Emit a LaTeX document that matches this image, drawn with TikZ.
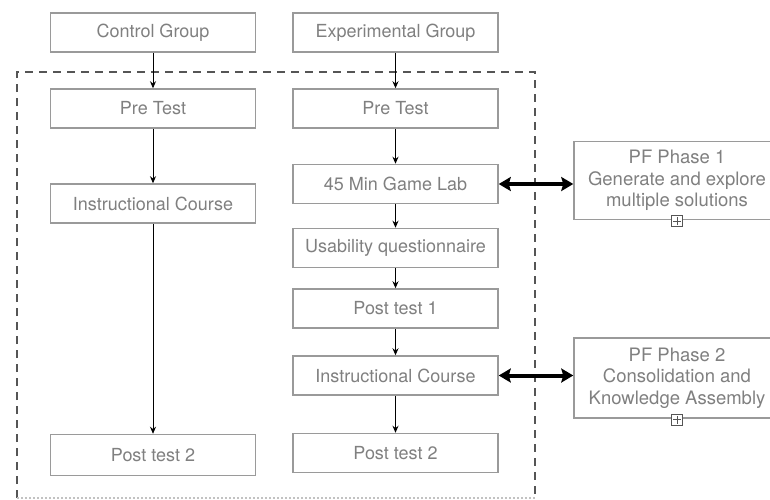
\documentclass[tikz,border=0pt]{standalone}
\usepackage{fontspec}
\setmainfont{TeX Gyre Heros}
\usetikzlibrary{arrows.meta}
\definecolor{boxline}{HTML}{9A9A9A}
\definecolor{boxtext}{HTML}{808080}
\definecolor{dashcol}{HTML}{555555}
\tikzset{
  stepbox/.style={draw=boxline, line width=1.5pt, minimum width=205pt, minimum height=39pt,
    inner sep=0pt, text=boxtext, font=\fontsize{18}{21}\selectfont},
  pfbox/.style={draw=boxline, line width=1.5pt, minimum width=206pt, inner sep=0pt,
    text=boxtext, align=center, font=\fontsize{18.5}{21.5}\selectfont},
  flow/.style={draw=black, line width=0.9pt, -{Stealth[length=7pt,width=6pt]}},
  bigarrow/.style={draw=black, line width=4pt, {Stealth[length=12pt,width=14pt,inset=2pt]}-{Stealth[length=12pt,width=14pt,inset=2pt]}},
  plusbox/.style={draw=dashcol, line width=1pt, minimum size=11pt, inner sep=0pt, fill=white}
}
\begin{document}
\begin{tikzpicture}[x=1pt,y=-1pt]
\useasboundingbox (0,0) rectangle (770,499);
\fill[white] (0,0) rectangle (770,499);
% dashed frame
\draw[dashcol, line width=1.4pt, dash pattern=on 8pt off 6pt] (17,498) -- (17,72) -- (535,72) -- (535,498);
\draw[boxline!60, line width=1.2pt, dash pattern=on 2pt off 2pt] (17,498) -- (535,498);
% left column
\node[stepbox] (cg) at (153,32.5) {Control Group};
\node[stepbox] (lpre) at (153,108.5) {Pre Test};
\node[stepbox] (lic) at (153,203.5) {Instructional Course};
\node[stepbox, minimum height=41pt] (lpost) at (153,455) {Post test 2};
% right column
\node[stepbox] (eg) at (395.5,32.5) {Experimental Group};
\node[stepbox] (rpre) at (395.5,108.5) {Pre Test};
\node[stepbox] (gl) at (395.5,184) {45 Min Game Lab};
\node[stepbox] (uq) at (395.5,248) {Usability questionnaire};
\node[stepbox] (pt1) at (395.5,308.5) {Post test 1};
\node[stepbox] (ric) at (395.5,375.5) {Instructional Course};
\node[stepbox] (rpost) at (395.5,453) {Post test 2};
% PF boxes
\node[pfbox, minimum height=78pt] (pf1) at (677,180.5) {PF Phase 1\\Generate and explore\\multiple solutions};
\node[pfbox, minimum height=80pt] (pf2) at (677,378) {PF Phase 2\\Consolidation and\\Knowledge Assembly};
\node[plusbox] (plus1) at ([yshift=-1pt]pf1.south) {};
\node[plusbox] (plus2) at ([yshift=-1pt]pf2.south) {};
\draw[dashcol, line width=1pt] ([xshift=-4pt]plus1.center) -- ([xshift=4pt]plus1.center)
  ([yshift=-4pt]plus1.center) -- ([yshift=4pt]plus1.center);
\draw[dashcol, line width=1pt] ([xshift=-4pt]plus2.center) -- ([xshift=4pt]plus2.center)
  ([yshift=-4pt]plus2.center) -- ([yshift=4pt]plus2.center);
% flow arrows
\draw[flow] (cg) -- (lpre);
\draw[flow] (lpre) -- (lic);
\draw[flow] (lic) -- (lpost);
\draw[flow] (eg) -- (rpre);
\draw[flow] (rpre) -- (gl);
\draw[flow] (gl) -- (uq);
\draw[flow] (uq) -- (pt1);
\draw[flow] (pt1) -- (ric);
\draw[flow] (ric) -- (rpost);
% big double arrows
\draw[bigarrow] (gl.east) -- (gl.east -| pf1.west);
\draw[bigarrow] (ric.east) -- (ric.east -| pf2.west);
\end{tikzpicture}
\end{document}
